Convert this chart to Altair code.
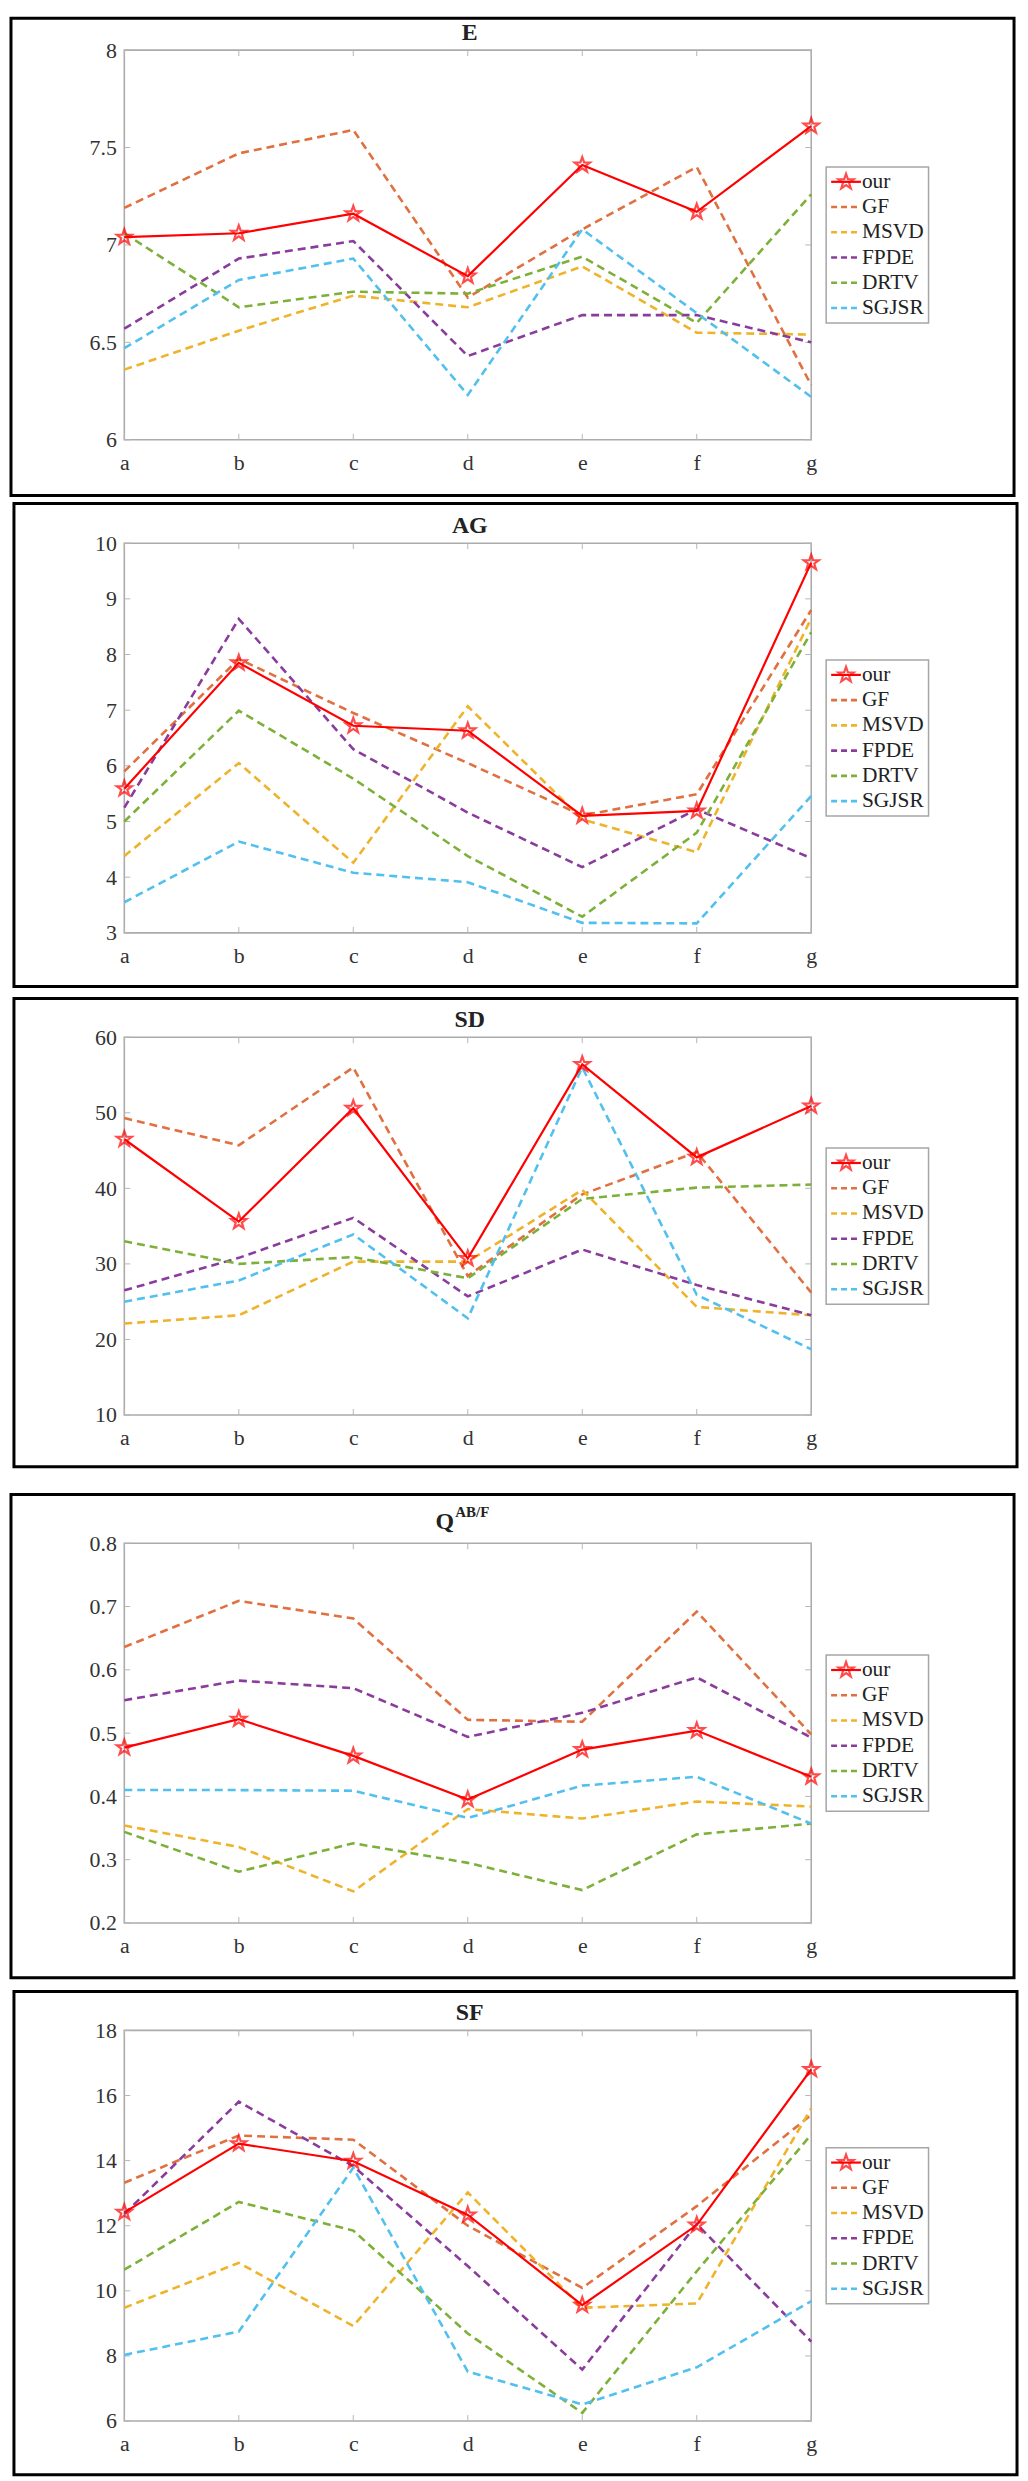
import math
import altair as alt
import pandas as pd

CATS = ["a", "b", "c", "d", "e", "f", "g"]
METHODS = ["our", "GF", "MSVD", "FPDE", "DRTV", "SGJSR"]
OTHER_COLORS = ["#E07040", "#EEB32A", "#8A3C9C", "#7DB038", "#52C0EE"]

# ---- E ----
E_OUR = [7.04, 7.06, 7.16, 6.84, 7.41, 7.17, 7.61]
E_GF = [7.19, 7.47, 7.59, 6.73, 7.08, 7.40, 6.28]
E_MSVD = [6.36, 6.56, 6.74, 6.68, 6.89, 6.55, 6.54]
E_FPDE = [6.57, 6.93, 7.02, 6.43, 6.64, 6.64, 6.50]
E_DRTV = [7.06, 6.68, 6.76, 6.75, 6.94, 6.60, 7.26]
E_SGJSR = [6.47, 6.82, 6.93, 6.23, 7.08, 6.65, 6.22]
E_TICKS = [6, 6.5, 7, 7.5, 8]

# ---- AG ----
AG_OUR = [5.59, 7.85, 6.72, 6.63, 5.10, 5.19, 9.65]
AG_GF = [5.90, 7.92, 6.95, 6.05, 5.11, 5.49, 8.80]
AG_MSVD = [4.38, 6.05, 4.26, 7.07, 5.04, 4.45, 8.65]
AG_FPDE = [5.25, 8.64, 6.30, 5.16, 4.18, 5.22, 4.34]
AG_DRTV = [5.00, 6.99, 5.77, 4.38, 3.29, 4.80, 8.40]
AG_SGJSR = [3.55, 4.64, 4.08, 3.91, 3.18, 3.17, 5.46]
AG_TICKS = [3, 4, 5, 6, 7, 8, 9, 10]

# ---- SD ----
SD_OUR = [46.5, 35.6, 50.6, 30.7, 56.4, 44.1, 50.9]
SD_GF = [49.3, 45.7, 56.0, 28.4, 39.2, 44.8, 26.2]
SD_MSVD = [22.1, 23.2, 30.3, 30.3, 39.8, 24.3, 23.2]
SD_FPDE = [26.5, 30.8, 36.1, 25.7, 31.9, 27.2, 23.2]
SD_DRTV = [33.0, 30.0, 30.9, 28.1, 38.6, 40.1, 40.5]
SD_SGJSR = [25.0, 27.8, 33.9, 22.8, 56.0, 25.9, 18.7]
SD_TICKS = [10, 20, 30, 40, 50, 60]

# ---- Q^AB/F ----
Q_OUR = [0.477, 0.522, 0.464, 0.395, 0.474, 0.504, 0.431]
Q_GF = [0.636, 0.709, 0.681, 0.521, 0.518, 0.692, 0.498]
Q_MSVD = [0.354, 0.320, 0.250, 0.380, 0.365, 0.392, 0.384]
Q_FPDE = [0.552, 0.583, 0.571, 0.494, 0.532, 0.588, 0.493]
Q_DRTV = [0.344, 0.281, 0.326, 0.295, 0.252, 0.340, 0.357]
Q_SGJSR = [0.410, 0.410, 0.409, 0.366, 0.417, 0.431, 0.357]
Q_TICKS = [0.2, 0.3, 0.4, 0.5, 0.6, 0.7, 0.8]

# ---- SF ----
SF_OUR = [12.41, 14.52, 13.98, 12.33, 9.56, 12.02, 16.80]
SF_GF = [13.32, 14.77, 14.64, 12.0, 10.09, 12.6, 15.4]
SF_MSVD = [9.48, 10.86, 8.92, 13.02, 9.48, 9.61, 15.6]
SF_FPDE = [12.36, 15.81, 13.83, 10.76, 7.58, 12.05, 8.44]
SF_DRTV = [10.65, 12.73, 11.85, 8.69, 6.25, 10.6, 14.8]
SF_SGJSR = [8.03, 8.75, 13.78, 7.52, 6.51, 7.65, 9.68]
SF_TICKS = [6, 8, 10, 12, 14, 16, 18]

FONT = "Liberation Serif"
W = 691


def star_path():
    pts = []
    for k in range(10):
        r = 1.0 if k % 2 == 0 else 0.4
        a = math.radians(-90 + 36 * k)
        pts.append(f"{r * math.cos(a):.3f},{r * math.sin(a):.3f}")
    return "M" + " L".join(pts) + " Z"


STAR = star_path()

PANELS = [
    dict(title="E", series=[E_OUR, E_GF, E_MSVD, E_FPDE, E_DRTV, E_SGJSR], ticks=E_TICKS,
         dom=[6, 8], x0=124, top=42, h=392, btop=10, bbot=490, stop=8, sbot=493.5),
    dict(title="AG", series=[AG_OUR, AG_GF, AG_MSVD, AG_FPDE, AG_DRTV, AG_SGJSR], ticks=AG_TICKS,
         dom=[3, 10], x0=121, top=537, h=392, btop=497, bbot=983, stop=493.5, sbot=988.5),
    dict(title="SD", series=[SD_OUR, SD_GF, SD_MSVD, SD_FPDE, SD_DRTV, SD_SGJSR], ticks=SD_TICKS,
         dom=[10, 60], x0=121, top=1033, h=380, btop=994, bbot=1465, stop=988.5, sbot=1478.5),
    dict(title="Q", series=[Q_OUR, Q_GF, Q_MSVD, Q_FPDE, Q_DRTV, Q_SGJSR], ticks=Q_TICKS,
         dom=[0.2, 0.8], x0=124, top=1541, h=382, btop=1492, bbot=1978, stop=1478.5, sbot=1984.5),
    dict(title="SF", series=[SF_OUR, SF_GF, SF_MSVD, SF_FPDE, SF_DRTV, SF_SGJSR], ticks=SF_TICKS,
         dom=[6, 18], x0=121, top=2030, h=393, btop=1991, bbot=2477, stop=1984.5, sbot=2480),
]

dummy = pd.DataFrame({"k": [0]})


def build_panel(p):
    H = p["h"]
    x0, T = p["x0"], p["top"]

    def lx(px):
        return px - x0

    def ly(py):
        return py - T

    rows = []
    for m, vals in zip(METHODS, p["series"]):
        for c, v in zip(CATS, vals):
            rows.append({"method": m, "cat": c, "value": v})
    df = pd.DataFrame(rows)
    df_our = df[df.method == "our"].reset_index(drop=True)
    df_oth = df[df.method != "our"].reset_index(drop=True)

    x_enc = alt.X("cat:N", scale=alt.Scale(type="point", padding=0, domain=CATS),
                  axis=alt.Axis(title=None, labelFont=FONT, labelFontSize=22, labelColor="#333333",
                                labelAngle=0, labelPadding=13, ticks=False, domain=False, grid=False,
                                labelFlush=False, zindex=2))
    y_enc = alt.Y("value:Q", scale=alt.Scale(domain=p["dom"], nice=False, zero=False),
                  axis=alt.Axis(title=None, values=p["ticks"], format=".6~g", labelFont=FONT,
                                labelFontSize=22, labelColor="#333333", labelPadding=8, ticks=False,
                                domain=False, grid=False, labelFlush=False, zindex=2))

    layers = []
    layers.append(alt.Chart(dummy).mark_rect(fill="white").encode(
        x=alt.value(lx(8)), x2=alt.value(lx(1021)), y=alt.value(ly(p["stop"])), y2=alt.value(ly(p["sbot"]))))
    layers.append(alt.Chart(dummy).mark_rect(fill="white", fillOpacity=0, stroke="black", strokeWidth=3).encode(
        x=alt.value(lx(10)), x2=alt.value(lx(1019)), y=alt.value(ly(p["btop"])), y2=alt.value(ly(p["bbot"]))))
    layers.append(alt.Chart(dummy).mark_rect(fill="white", fillOpacity=0, stroke="#ababab", strokeWidth=1.6).encode(
        x=alt.value(0), x2=alt.value(W), y=alt.value(0), y2=alt.value(H)))
    ydf = pd.DataFrame({"value": p["ticks"]})
    xdf = pd.DataFrame({"cat": CATS})
    layers.append(alt.Chart(ydf).mark_rule(color="#b5b5b5", strokeWidth=1).encode(
        y=y_enc, x=alt.value(0), x2=alt.value(6)))
    layers.append(alt.Chart(ydf).mark_rule(color="#b5b5b5", strokeWidth=1).encode(
        y=y_enc, x=alt.value(W - 6), x2=alt.value(W)))
    layers.append(alt.Chart(xdf).mark_rule(color="#b5b5b5", strokeWidth=1).encode(
        x=x_enc, y=alt.value(H - 6), y2=alt.value(H)))
    layers.append(alt.Chart(xdf).mark_rule(color="#b5b5b5", strokeWidth=1).encode(
        x=x_enc, y=alt.value(0), y2=alt.value(6)))
    layers.append(alt.Chart(df_oth).mark_line(strokeWidth=2.6, strokeDash=[8, 5]).encode(
        x=x_enc, y=y_enc,
        color=alt.Color("method:N", scale=alt.Scale(domain=METHODS[1:], range=OTHER_COLORS), legend=None)))
    layers.append(alt.Chart(df_our).mark_line(color="#ff0000", strokeWidth=2.2).encode(x=x_enc, y=y_enc))
    layers.append(alt.Chart(df_our).mark_point(shape=STAR, size=260, filled=False, color="#ff0000",
                                               strokeWidth=2.2).encode(x=x_enc, y=y_enc))

    # legend
    cy = H / 2
    layers.append(alt.Chart(dummy).mark_rect(fill="white", stroke="#a6a6a6", strokeWidth=1.5).encode(
        x=alt.value(W + 15), x2=alt.value(W + 118), y=alt.value(cy - 78.5), y2=alt.value(cy + 78.5)))
    for i, m in enumerate(METHODS):
        ry = cy + (i - 2.5) * 25.4
        if m == "our":
            layers.append(alt.Chart(dummy).mark_rule(color="#ff0000", strokeWidth=2.2).encode(
                x=alt.value(W + 20), x2=alt.value(W + 50), y=alt.value(ry)))
            layers.append(alt.Chart(dummy).mark_point(shape=STAR, size=260, filled=False, color="#ff0000",
                                                      strokeWidth=2.2).encode(
                x=alt.value(W + 35), y=alt.value(ry)))
        else:
            layers.append(alt.Chart(dummy).mark_rule(color=OTHER_COLORS[i - 1], strokeWidth=2.6,
                                                     strokeDash=[6, 4]).encode(
                x=alt.value(W + 20), x2=alt.value(W + 50), y=alt.value(ry)))
        layers.append(alt.Chart(dummy).mark_text(font=FONT, fontSize=21.5, color="#222222",
                                                 align="left", baseline="middle").encode(
            text=alt.value(m), x=alt.value(W + 51), y=alt.value(ry)))

    if p["title"] == "Q":
        layers.append(alt.Chart(dummy).mark_text(font=FONT, fontSize=24, fontWeight="bold",
                                                 color="#222222", align="left", baseline="alphabetic").encode(
            text=alt.value("Q"), x=alt.value(lx(437)), y=alt.value(ly(1527))))
        layers.append(alt.Chart(dummy).mark_text(font=FONT, fontSize=15, fontWeight="bold",
                                                 color="#222222", align="left", baseline="alphabetic").encode(
            text=alt.value("AB/F"), x=alt.value(lx(457)), y=alt.value(ly(1515))))
    else:
        layers.append(alt.Chart(dummy).mark_text(font=FONT, fontSize=24, fontWeight="bold",
                                                 color="#222222", align="center", baseline="alphabetic").encode(
            text=alt.value(p["title"]), x=alt.value(W / 2 + 2), y=alt.value(-10)))

    return alt.layer(*layers).properties(width=W, height=H)


charts = [build_panel(p) for p in PANELS]
chart = alt.vconcat(*charts, spacing=0).properties(padding=0).configure_view(stroke="transparent")
chart.save("out.html", embed_options={"renderer": "svg", "actions": False})
